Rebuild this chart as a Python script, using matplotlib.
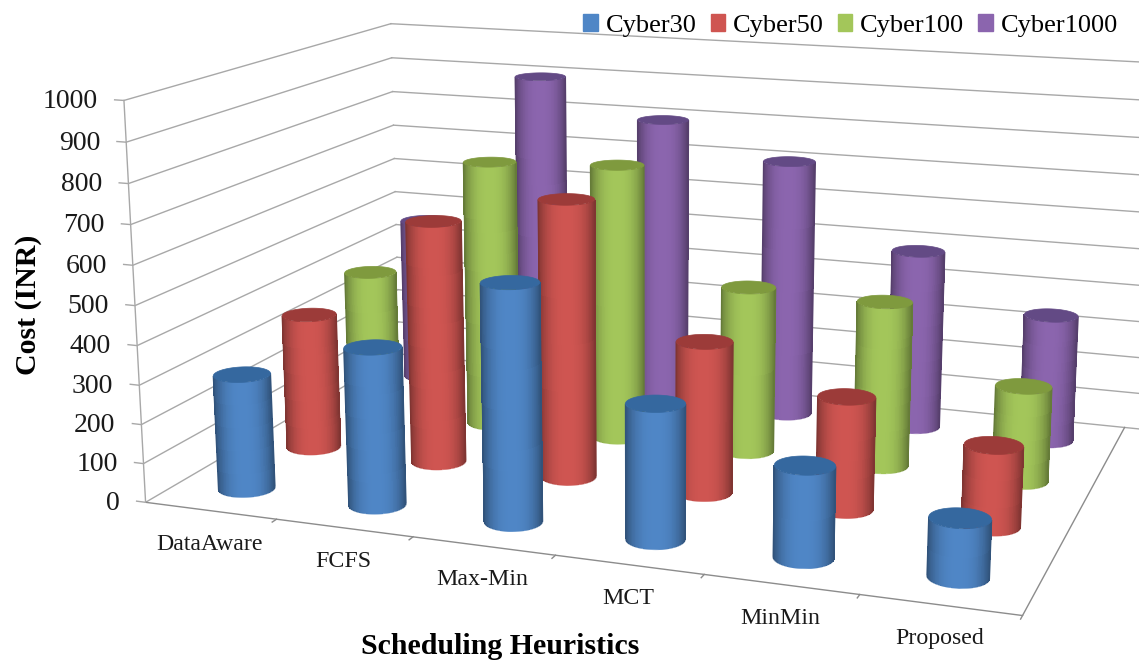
import numpy as np
import matplotlib
matplotlib.use("Agg")
import matplotlib.pyplot as plt
from matplotlib.collections import LineCollection
from matplotlib.colors import to_rgb
from matplotlib.patches import Patch, Polygon
from mpl_toolkits.mplot3d import proj3d

plt.rcParams["font.family"] = ["Liberation Serif", "DejaVu Serif"]

heuristics = ["DataAware", "FCFS", "Max-Min", "MCT", "MinMin", "Proposed"]
series_names = ["Cyber30", "Cyber50", "Cyber100", "Cyber1000"]
cyber30 = [296, 400, 592, 333, 223, 140]
cyber50 = [360, 637, 720, 389, 285, 202]
cyber100 = [392, 724, 740, 442, 435, 248]
cyber1000 = [463, 900, 800, 708, 488, 343]
cost_ticks = list(range(0, 1001, 100))

series_values = [cyber30, cyber50, cyber100, cyber1000]
body_colors = ["#4f86c6", "#cf5551", "#a3c65a", "#8b65ae"]
cap_colors = ["#35689f", "#9c3b39", "#7f9a3e", "#634a85"]
grid_color = "#a8a8a8"

W, H = 1139, 666
S = 1000.0
RADIO = 0.193  # radio del cilindro en unidades de celda

fig = plt.figure(figsize=(W / 100, H / 100), dpi=100, facecolor="white")
ax = fig.add_axes([146.06 / W, -123.01 / H, S / W, S / H], projection="3d",
                  computed_zorder=False)
ax.set_axis_off()
ax.view_init(elev=13.81, azim=-70.44, roll=-0.07)
ax.set_proj_type("persp", focal_length=0.4346)
ax.set_box_aspect((2.1744, 1.4316, 1.0), zoom=1.0666)
ax.set_xlim(0, 6)
ax.set_ylim(0, 4)
ax.set_zlim(0, 1000)
ax.apply_aspect()
M = ax.get_proj()

# capa 2D en pixeles para los cilindros sombreados
over = fig.add_axes([0, 0, 1, 1], facecolor="none")
over.set_xlim(0, W)
over.set_ylim(0, H)
over.set_axis_off()


def to_px(x, y, z):
    """Pasa puntos de datos 3D a pixeles de la figura."""
    px, py, _ = proj3d.proj_transform(x, y, z, M)
    return ax.transData.transform(np.c_[px, py])


def fig_text(x, y, s, **kw):
    return fig.text(x / W, y / H, s, **kw)


def cylinder(cx, cy, h, body, cap, zo):
    """Dibuja la mitad visible de un cilindro, con sombreado lateral, y su tapa."""
    t = np.linspace(0, 2 * np.pi, 181)[:-1]
    xs = cx + RADIO * np.cos(t)
    ys = cy + RADIO * np.sin(t)
    low = to_px(xs, ys, np.zeros_like(xs))
    high = to_px(xs, ys, np.full_like(xs, h))

    # las verticales convergen abajo: la silueta son las tangentes desde ese punto de fuga
    fuga = to_px(np.array([cx]), np.array([cy]), np.array([-1e6]))[0]
    ang = np.arctan2(low[:, 0] - fuga[0], low[:, 1] - fuga[1])

    # arco frontal: de extremo izquierdo a extremo derecho por abajo
    n = len(t)
    left, right = int(np.argmin(ang)), int(np.argmax(ang))
    arc_a = [(left + k) % n for k in range((right - left) % n + 1)]
    arc_b = [(left - k) % n for k in range((left - right) % n + 1)]
    arc = arc_a if low[arc_a, 1].mean() < low[arc_b, 1].mean() else arc_b

    mid = (ang[left] + ang[right]) / 2
    half = (ang[right] - ang[left]) / 2
    base = np.array(to_rgb(body))
    u = np.abs((ang[arc[:-1]] + ang[arc[1:]]) / 2 - mid) / half
    cols = np.outer(1 - 0.38 * u ** 2.6, base)

    X = np.vstack([low[arc, 0], high[arc, 0]])
    Y = np.vstack([low[arc, 1], high[arc, 1]])
    over.pcolormesh(X, Y, cols[np.newaxis, :, :], shading="flat", antialiased=False,
                    zorder=zo)
    # bordes suavizados
    segs = [[low[a], low[b]] for a, b in zip(arc[:-1], arc[1:])]
    segs += [[low[left], high[left]], [low[right], high[right]]]
    edge = np.vstack([cols, [cols[0]], [cols[-1]]])
    over.add_collection(LineCollection(segs, colors=edge, linewidths=0.9, zorder=zo + 0.1))
    over.add_patch(Polygon(high, closed=True, facecolor=cap, edgecolor=cap, linewidth=0.5,
                           zorder=zo + 0.2))


# paredes y piso
for z in cost_ticks:
    ax.plot([-0.07, 0, 0], [0, 0, 4], [z, z, z], color=grid_color, lw=1.0, zorder=1, clip_on=False)
    ax.plot([0, 6.2], [4, 4], [z, z], color=grid_color, lw=1.0, zorder=1, clip_on=False)
ax.plot([0, 0], [0, 0], [0, 1000], color=grid_color, lw=1.0, zorder=1, clip_on=False)
ax.plot([0, 6, 6], [0, 0, 4], [0, 0, 0], color="#8c8c8c", lw=1.0, zorder=1)
for i in range(1, 7):
    ax.plot([i, i], [0, -0.06], [0, 0], color="#8c8c8c", lw=1.0, zorder=1)

# cilindros, de la fila del fondo hacia el frente
zo = 2
for j in [3, 2, 1, 0]:
    for i, val in enumerate(series_values[j]):
        cylinder(i + 0.5, j + 0.5, val, body_colors[j], cap_colors[j], zo)
        zo += 1
over.set_xlim(0, W)
over.set_ylim(0, H)

# textos
for z in cost_ticks:
    px, py = to_px(0, 0, z)[0]
    fig_text(px - 26, py - 1, str(z), fontsize=20, ha="right", va="center", color="#1a1a1a")
for i, name in enumerate(heuristics):
    px, py = to_px(i + 0.5, 0, 0)[0]
    fig_text(px - 1, py - 34, name, fontsize=17.2, ha="center", va="center", color="#1a1a1a")

fig_text(28, H - 305, "Cost (INR)", fontsize=21.5, fontweight="bold", rotation=90,
         ha="center", va="center")
fig_text(500, H - 647, "Scheduling Heuristics", fontsize=21.5, fontweight="bold",
         ha="center", va="center")

handles = [Patch(facecolor=c, edgecolor=c) for c in body_colors]
fig.legend(handles, series_names, ncol=4, loc="upper right", frameon=False,
           bbox_to_anchor=(1122 / W, 1 - 10 / H), fontsize=19, handlelength=0.55, handleheight=0.6,
           handletextpad=0.3, columnspacing=0.53, borderaxespad=0, borderpad=0.15)

fig.savefig("out.png", dpi=100, facecolor="white")
